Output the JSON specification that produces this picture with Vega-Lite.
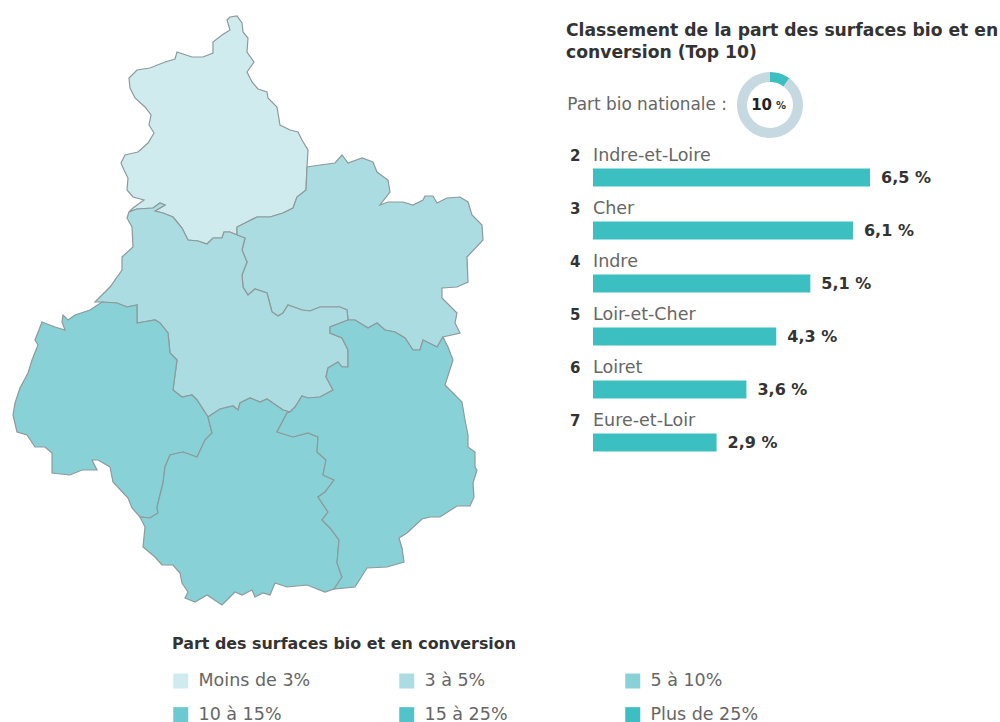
{
"$schema":"https://vega.github.io/schema/vega-lite/v6.json",
"padding":0,"background":"white","bounds":"flush","spacing":0,
"config":{"view":{"stroke":null},"font":"DejaVu Sans"},
"hconcat":[
{"width":593,"height":722,
 "data":{"values":[
 {"type":"Feature","properties":{"nom":"Eure-et-Loir","classe":"Moins de 3%"},"geometry":{"type":"Polygon","coordinates":[[[307,167],[306,190],[297,197],[293,208],[283,213],[270,217],[257,217],[245,223],[237,227],[237,235],[230,232],[224,232],[222,238],[213,238],[207,244],[198,241],[188,240],[182,228],[173,217],[163,213],[155,211],[165,205],[160,203],[153,208],[137,209],[129,212],[133,208],[144,200],[133,197],[127,190],[128,178],[124,170],[121,163],[125,155],[138,152],[148,143],[154,133],[149,125],[151,115],[145,107],[135,98],[130,88],[129,78],[137,70],[150,68],[165,62],[175,59],[177,52],[192,57],[203,57],[213,53],[213,42],[222,35],[230,30],[227,20],[230,17],[237,16],[242,23],[243,32],[248,38],[247,52],[254,62],[247,72],[252,82],[258,89],[267,92],[268,98],[277,107],[280,125],[290,130],[298,132],[302,140],[308,150],[307,167]]]}},
 {"type":"Feature","properties":{"nom":"Loiret","classe":"3 à 5%"},"geometry":{"type":"Polygon","coordinates":[[[307,167],[320,165],[335,163],[342,155],[348,163],[362,158],[373,162],[377,172],[388,180],[390,192],[380,205],[388,202],[403,202],[413,205],[423,200],[425,196],[433,196],[437,203],[447,198],[460,197],[468,202],[472,215],[482,225],[483,240],[467,257],[468,282],[457,287],[442,288],[442,298],[457,313],[455,323],[460,333],[443,337],[437,347],[423,340],[420,350],[413,350],[405,338],[395,332],[385,330],[377,323],[368,328],[355,320],[348,320],[347,310],[340,307],[320,307],[310,311],[302,310],[288,305],[283,313],[278,316],[272,312],[267,293],[255,289],[248,295],[243,287],[242,275],[247,262],[242,250],[245,238],[237,235],[237,227],[245,223],[257,217],[270,217],[283,213],[293,208],[297,197],[306,190],[307,167]]]}},
 {"type":"Feature","properties":{"nom":"Loir-et-Cher","classe":"3 à 5%"},"geometry":{"type":"Polygon","coordinates":[[[129,212],[137,209],[153,208],[160,203],[165,205],[155,211],[163,213],[173,217],[182,228],[188,240],[198,241],[207,244],[213,238],[222,238],[224,232],[230,232],[237,235],[245,238],[242,250],[247,262],[242,275],[243,287],[248,295],[255,289],[267,293],[272,312],[278,316],[283,313],[288,305],[302,310],[310,311],[320,307],[340,307],[347,310],[348,320],[330,327],[330,333],[342,338],[348,350],[348,367],[342,367],[338,362],[328,368],[326,377],[333,390],[320,397],[308,398],[302,396],[295,407],[290,412],[283,410],[267,399],[260,402],[250,398],[240,403],[238,410],[233,406],[220,409],[208,417],[197,400],[192,395],[182,397],[173,390],[177,360],[170,353],[168,333],[160,323],[155,320],[143,322],[137,323],[137,305],[127,307],[117,303],[102,302],[95,302],[110,287],[122,270],[122,257],[133,247],[132,227],[127,218],[129,212]]]}},
 {"type":"Feature","properties":{"nom":"Indre-et-Loire","classe":"5 à 10%"},"geometry":{"type":"Polygon","coordinates":[[[102,302],[90,310],[75,315],[68,320],[63,315],[62,322],[65,330],[55,327],[42,322],[35,340],[38,345],[32,360],[28,373],[20,388],[15,403],[13,415],[17,432],[27,435],[35,447],[45,447],[52,453],[52,473],[70,475],[82,470],[97,470],[92,460],[98,460],[110,467],[113,482],[128,498],[132,508],[140,517],[150,518],[158,513],[157,507],[163,483],[165,467],[170,455],[183,452],[197,457],[205,440],[212,433],[208,417],[197,400],[192,395],[182,397],[173,390],[177,360],[170,353],[168,333],[160,323],[155,320],[143,322],[137,323],[137,305],[127,307],[117,303],[102,302]]]}},
 {"type":"Feature","properties":{"nom":"Indre","classe":"5 à 10%"},"geometry":{"type":"Polygon","coordinates":[[[140,517],[145,527],[143,547],[155,557],[162,565],[173,565],[180,573],[182,583],[188,592],[185,598],[195,602],[207,595],[222,605],[235,592],[242,595],[252,590],[255,597],[263,593],[270,595],[275,583],[287,587],[307,585],[325,592],[334,589],[342,577],[337,563],[339,540],[330,528],[322,520],[328,512],[318,497],[325,492],[334,480],[323,475],[326,460],[317,452],[318,437],[308,433],[293,437],[277,432],[287,413],[290,412],[283,410],[267,399],[260,402],[250,398],[240,403],[238,410],[233,406],[220,409],[208,417],[212,433],[205,440],[197,457],[183,452],[170,455],[165,467],[163,483],[157,507],[158,513],[150,518],[140,517]]]}},
 {"type":"Feature","properties":{"nom":"Cher","classe":"5 à 10%"},"geometry":{"type":"Polygon","coordinates":[[[348,320],[355,320],[368,328],[377,323],[385,330],[395,332],[405,338],[413,350],[420,350],[423,340],[437,347],[443,337],[448,347],[453,360],[445,385],[452,392],[462,402],[465,420],[468,435],[468,447],[475,452],[475,467],[477,470],[473,483],[474,497],[470,506],[457,506],[440,517],[430,517],[422,519],[407,533],[399,538],[402,548],[404,562],[387,567],[367,568],[355,587],[334,589],[342,577],[337,563],[339,540],[330,528],[322,520],[328,512],[318,497],[325,492],[334,480],[323,475],[326,460],[317,452],[318,437],[308,433],[293,437],[277,432],[287,413],[290,412],[295,407],[302,396],[308,398],[320,397],[333,390],[326,377],[328,368],[338,362],[342,367],[348,367],[348,350],[342,338],[330,333],[330,327],[348,320]]]}}
 ]},
 "projection":{"type":"identity","scale":1,"translate":[0,0]},
 "mark":{"type":"geoshape","stroke":"#8d9a9b","strokeWidth":1.2},
 "encoding":{"fill":{"field":"properties.classe","type":"nominal",
   "scale":{"domain":["Moins de 3%","10 à 15%","3 à 5%","15 à 25%","5 à 10%","Plus de 25%"],"range":["#d0ebee","#6cc9cf","#aadce1","#52c3c8","#88d1d7","#3bbfc2"]},
   "legend":{"orient":"none","legendX":172,"legendY":636,"columns":3,"title":"Part des surfaces bio et en conversion","titleFontSize":15.9,"titleFontWeight":700,"titleColor":"#333333","titlePadding":20,"titleLimit":500,"labelFontSize":17.5,"labelColor":"#666666","labelOffset":9,"symbolType":"square","symbolSize":225,"symbolStrokeWidth":0,"rowPadding":15,"columnPadding":87,"gridAlign":"all"}}}
},
{"bounds":"flush","spacing":13,"vconcat":[
 {"width":407,"height":59,
  "data":{"values":[{"titre":"Classement de la part des surfaces bio et en\nconversion (Top 10)"}]},
  "mark":{"type":"text","lineBreak":"\n","lineHeight":22,"align":"left","baseline":"middle","xOffset":-27,"dy":1,"fontSize":17.2,"fontWeight":700,"color":"#333333"},
  "encoding":{"x":{"datum":0,"type":"quantitative","axis":null,"scale":{"domain":[0,1]}},"text":{"field":"titre"}}
 },
 {"width":354,"height":66,
  "layer":[
   {"data":{"values":[{"part":"bio","valeur":10,"ordre":1},{"part":"autre","valeur":90,"ordre":2}]},
    "mark":{"type":"arc","radius":33,"radius2":23},
    "encoding":{"theta":{"field":"valeur","type":"quantitative","stack":true,"scale":{"domain":[0,100],"range":[0,6.2832]}},"order":{"field":"ordre"},"color":{"field":"part","type":"nominal","legend":null,"scale":{"domain":["bio","autre"],"range":["#3cbfc1","#c6d9e0"]}}}},
   {"data":{"values":[{"t":"10"}]},"mark":{"type":"text","fontSize":15,"fontWeight":700,"color":"#222222","align":"right","xOffset":2},"encoding":{"text":{"field":"t"}}},
   {"data":{"values":[{"t":"%"}]},"mark":{"type":"text","fontSize":10,"fontWeight":700,"color":"#333333","align":"left","xOffset":6,"dy":1},"encoding":{"text":{"field":"t"}}},
   {"data":{"values":[{"t":"Part bio nationale :"}]},"mark":{"type":"text","fontSize":16.9,"color":"#666666","align":"right","xOffset":-43},"encoding":{"text":{"field":"t"}}}
  ]
 },
 {"width":407,"height":318,
  "data":{"values":[
   {"rang":2,"departement":"Indre-et-Loire","part":6.5,"libelle":"6,5 %"},
   {"rang":3,"departement":"Cher","part":6.1,"libelle":"6,1 %"},
   {"rang":4,"departement":"Indre","part":5.1,"libelle":"5,1 %"},
   {"rang":5,"departement":"Loir-et-Cher","part":4.3,"libelle":"4,3 %"},
   {"rang":6,"departement":"Loiret","part":3.6,"libelle":"3,6 %"},
   {"rang":7,"departement":"Eure-et-Loir","part":2.9,"libelle":"2,9 %"}
  ]},
  "encoding":{"y":{"field":"rang","type":"ordinal","axis":null,"scale":{"paddingInner":0,"paddingOuter":0}}},
  "layer":[
   {"mark":{"type":"bar","size":18,"color":"#3cbfc1"},
    "encoding":{"x":{"field":"part","type":"quantitative","axis":null,"scale":{"domain":[0,9.55],"nice":false}}}},
   {"mark":{"type":"text","align":"left","dx":11,"fontSize":16,"fontWeight":700,"color":"#333333"},
    "encoding":{"x":{"field":"part","type":"quantitative"},"text":{"field":"libelle"}}},
   {"mark":{"type":"text","align":"left","dy":-22,"fontSize":17.5,"color":"#666666"},
    "encoding":{"x":{"datum":0,"type":"quantitative"},"text":{"field":"departement"}}},
   {"mark":{"type":"text","align":"left","dy":-22,"xOffset":-23,"fontSize":15,"fontWeight":700,"color":"#333333"},
    "encoding":{"x":{"datum":0,"type":"quantitative"},"text":{"field":"rang"}}}
  ]
 }
]}
]}
